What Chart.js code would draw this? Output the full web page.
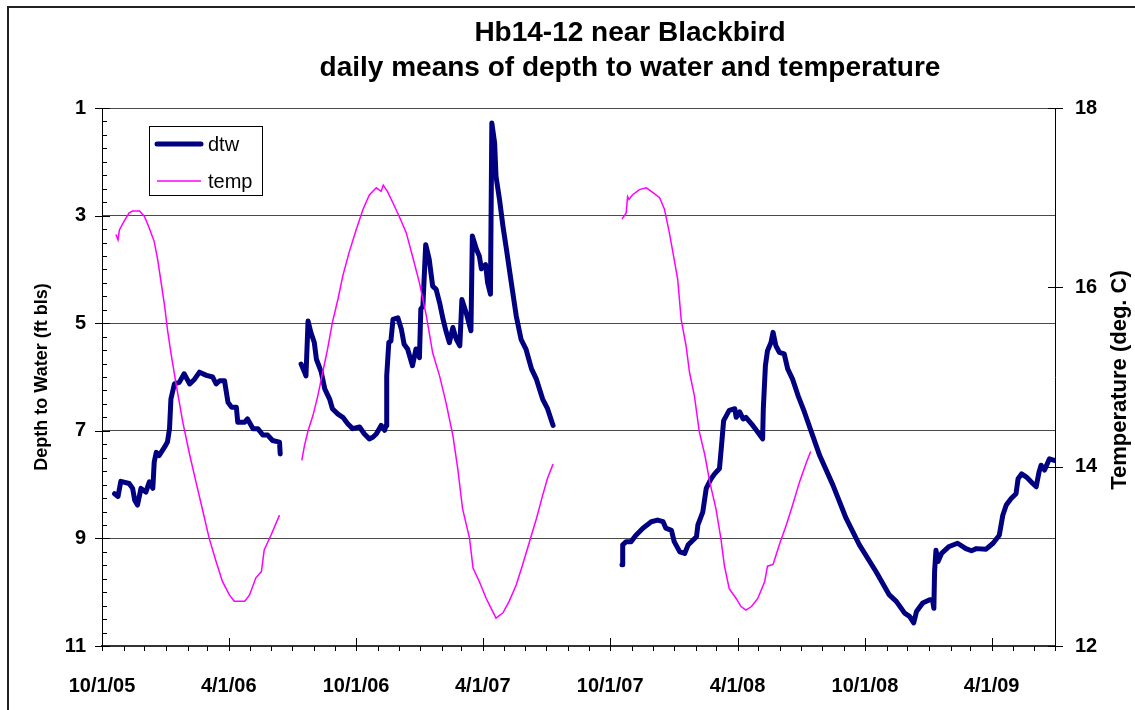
<!DOCTYPE html>
<html>
<head>
<meta charset="utf-8">
<script src="https://cdn.jsdelivr.net/npm/chart.js@4.4.1/dist/chart.umd.min.js"></script>
<style>
  html, body { margin: 0; padding: 0; background: #fff; }
  #chart { display: block; }
</style>
</head>
<body>
<canvas id="chart" width="1135" height="710"></canvas>
<script>
const titleLines = ['Hb14-12 near Blackbird', 'daily means of depth to water and temperature'];
const depthAxisTitle = 'Depth to Water (ft bls)';
const tempAxisTitle = 'Temperature (deg. C)';
const xStart = '2005-10-01';
const xEnd = '2009-07-01';
const xTickDates = ['2005-10-01', '2006-04-01', '2006-10-01', '2007-04-01', '2007-10-01', '2008-04-01', '2008-10-01', '2009-04-01'];
const depthTicks = [1, 3, 5, 7, 9, 11];
const tempTicks = [12, 14, 16, 18];

// null = no record (logger gap)
const dtwDates = [
    '2005-10-19', '2005-10-24', '2005-10-28', '2005-11-09', '2005-11-14', '2005-11-17', '2005-11-21', '2005-11-26',
    '2005-12-03', '2005-12-08', '2005-12-13', '2005-12-15', '2005-12-18', '2005-12-22', '2005-12-30', '2006-01-03',
    '2006-01-06', '2006-01-08', '2006-01-13', '2006-01-20', '2006-01-27', '2006-02-04', '2006-02-11', '2006-02-18',
    '2006-02-28', '2006-03-09', '2006-03-14', '2006-03-19', '2006-03-26', '2006-03-31', '2006-04-05', '2006-04-12',
    '2006-04-14', '2006-04-24', '2006-04-28', '2006-05-06', '2006-05-13', '2006-05-20', '2006-05-27', '2006-06-03',
    '2006-06-13', '2006-06-14',
    '2006-06-30',
    '2006-07-14', '2006-07-19', '2006-07-21', '2006-07-24', '2006-07-28', '2006-08-02', '2006-08-05', '2006-08-12',
    '2006-08-17', '2006-08-24', '2006-08-28', '2006-09-05', '2006-09-12', '2006-09-19', '2006-09-26', '2006-10-06',
    '2006-10-13', '2006-10-20', '2006-10-25', '2006-10-30', '2006-11-06', '2006-11-11', '2006-11-13', '2006-11-14',
    '2006-11-17', '2006-11-20', '2006-11-23', '2006-11-30', '2006-12-05', '2006-12-09', '2006-12-14', '2006-12-21',
    '2006-12-26', '2006-12-31', '2007-01-02', '2007-01-05', '2007-01-09', '2007-01-14', '2007-01-19', '2007-01-24',
    '2007-01-29', '2007-02-03', '2007-02-07', '2007-02-12', '2007-02-17', '2007-02-22', '2007-02-27', '2007-03-02',
    '2007-03-08', '2007-03-15', '2007-03-17', '2007-03-23', '2007-03-27', '2007-03-30', '2007-04-05', '2007-04-08',
    '2007-04-12', '2007-04-14', '2007-04-18', '2007-04-20', '2007-04-25', '2007-04-30', '2007-05-05', '2007-05-12',
    '2007-05-19', '2007-05-26', '2007-06-02', '2007-06-10', '2007-06-17', '2007-06-26', '2007-07-03', '2007-07-11',
    '2007-09-01',
    '2007-10-18', '2007-10-19', '2007-10-24', '2007-10-31', '2007-11-07', '2007-11-17', '2007-11-29', '2007-12-08',
    '2007-12-16', '2007-12-20', '2007-12-28', '2008-01-01', '2008-01-09', '2008-01-16', '2008-01-21', '2008-02-02',
    '2008-02-04', '2008-02-11', '2008-02-16', '2008-02-23', '2008-02-28', '2008-03-06', '2008-03-09', '2008-03-12',
    '2008-03-20', '2008-03-28', '2008-03-30', '2008-04-04', '2008-04-09', '2008-04-13', '2008-04-21', '2008-04-28',
    '2008-05-07', '2008-05-08', '2008-05-11', '2008-05-14', '2008-05-19', '2008-05-22', '2008-05-26', '2008-05-31',
    '2008-06-07', '2008-06-12', '2008-06-19', '2008-06-27', '2008-07-06', '2008-07-16', '2008-07-28', '2008-08-16',
    '2008-09-04', '2008-09-23', '2008-10-17', '2008-11-05', '2008-11-15', '2008-11-27', '2008-12-04', '2008-12-10',
    '2008-12-14', '2008-12-23', '2009-01-02', '2009-01-06', '2009-01-08', '2009-01-09', '2009-01-11', '2009-01-14',
    '2009-01-19', '2009-01-30', '2009-02-11', '2009-02-23', '2009-03-03', '2009-03-10', '2009-03-24', '2009-04-03',
    '2009-04-12', '2009-04-17', '2009-04-22', '2009-04-29', '2009-05-06', '2009-05-09', '2009-05-14', '2009-05-21',
    '2009-05-30', '2009-06-04', '2009-06-08', '2009-06-11', '2009-06-16', '2009-06-23', '2009-06-30'
];
const dtwFeet = [
    8.17, 8.22, 7.94, 7.98, 8.07, 8.29, 8.38, 8.07,
    8.14, 7.95, 8.07, 7.58, 7.40, 7.46, 7.30, 7.21,
    6.96, 6.41, 6.13, 6.10, 5.94, 6.13, 6.04, 5.91,
    5.97, 6.00, 6.13, 6.07, 6.07, 6.47, 6.56, 6.56,
    6.84, 6.84, 6.78, 6.96, 6.96, 7.08, 7.08, 7.18,
    7.21, 7.43,
    null,
    5.76, 5.91, 5.98, 4.96, 5.17, 5.36, 5.67, 5.91,
    6.22, 6.41, 6.59, 6.69, 6.75, 6.87, 6.96, 6.93,
    7.06, 7.15, 7.12, 7.06, 6.90, 6.99, 6.90, 5.98,
    5.36, 5.33, 4.93, 4.90, 5.11, 5.39, 5.48, 5.79,
    5.48, 5.64, 4.74, 4.68, 3.54, 3.81, 4.31, 4.37,
    4.62, 4.93, 5.14, 5.36, 5.08, 5.30, 5.42, 4.56,
    4.80, 5.14, 3.38, 3.63, 3.75, 3.99, 3.91, 4.25,
    4.46, 1.28, 1.65, 2.27, 2.70, 3.20, 3.63, 4.25,
    4.86, 5.30, 5.48, 5.85, 6.04, 6.41, 6.59, 6.90,
    null,
    9.49, 9.12, 9.06, 9.06, 8.94, 8.81, 8.69, 8.66,
    8.69, 8.81, 8.85, 9.06, 9.25, 9.28, 9.12, 8.97,
    8.75, 8.51, 8.07, 7.89, 7.80, 7.70, 7.27, 6.81,
    6.62, 6.59, 6.75, 6.65, 6.78, 6.75, 6.87, 6.99,
    7.15, 6.59, 5.79, 5.51, 5.36, 5.17, 5.42, 5.54,
    5.57, 5.85, 6.04, 6.35, 6.65, 7.02, 7.46, 8.01,
    8.63, 9.12, 9.62, 10.05, 10.17, 10.39, 10.45, 10.57,
    10.36, 10.20, 10.14, 10.14, 10.30, 9.62, 9.22, 9.43,
    9.28, 9.15, 9.09, 9.19, 9.23, 9.19, 9.20, 9.09,
    8.94, 8.57, 8.38, 8.26, 8.17, 7.89, 7.80, 7.86,
    7.98, 8.04, 7.77, 7.64, 7.73, 7.52, 7.55
];

const tempDates = [
    '2005-10-21', '2005-10-24', '2005-10-26', '2005-11-02', '2005-11-09', '2005-11-14', '2005-11-24', '2005-12-01',
    '2005-12-08', '2005-12-15', '2005-12-20', '2005-12-25', '2005-12-30', '2006-01-03', '2006-01-08', '2006-01-15',
    '2006-01-25', '2006-02-04', '2006-02-13', '2006-02-23', '2006-03-04', '2006-03-14', '2006-03-23', '2006-04-02',
    '2006-04-09', '2006-04-24', '2006-05-01', '2006-05-10', '2006-05-18', '2006-05-22', '2006-06-01', '2006-06-13',
    '2006-07-01',
    '2006-07-15', '2006-07-19', '2006-07-24', '2006-07-31', '2006-08-07', '2006-08-14', '2006-08-21', '2006-08-28',
    '2006-09-05', '2006-09-12', '2006-09-21', '2006-10-01', '2006-10-11', '2006-10-20', '2006-10-30', '2006-11-06',
    '2006-11-09', '2006-11-15', '2006-11-23', '2006-12-02', '2006-12-12', '2006-12-21', '2006-12-31', '2007-01-10',
    '2007-01-19', '2007-01-29', '2007-02-07', '2007-02-17', '2007-02-24', '2007-03-03', '2007-03-13', '2007-03-18',
    '2007-03-27', '2007-04-06', '2007-04-13', '2007-04-20', '2007-04-30', '2007-05-09', '2007-05-19', '2007-05-28',
    '2007-06-07', '2007-06-17', '2007-06-26', '2007-07-03', '2007-07-11',
    '2007-09-01',
    '2007-10-18', '2007-10-24', '2007-10-26', '2007-10-28', '2007-11-02', '2007-11-12', '2007-11-22', '2007-12-01',
    '2007-12-11', '2007-12-18', '2007-12-25', '2008-01-01', '2008-01-06', '2008-01-11', '2008-01-18', '2008-01-23',
    '2008-01-30', '2008-02-06', '2008-02-14', '2008-02-21', '2008-03-01', '2008-03-08', '2008-03-13', '2008-03-20',
    '2008-03-30', '2008-04-06', '2008-04-13', '2008-04-21', '2008-04-30', '2008-05-10', '2008-05-14', '2008-05-22',
    '2008-05-31', '2008-06-10', '2008-06-19', '2008-06-29', '2008-07-09', '2008-07-15'
];
const tempC = [
    16.59, 16.53, 16.64, 16.74, 16.83, 16.85, 16.85, 16.79,
    16.66, 16.51, 16.31, 16.05, 15.79, 15.53, 15.27, 14.94,
    14.50, 14.13, 13.83, 13.50, 13.20, 12.94, 12.72, 12.57,
    12.50, 12.50, 12.57, 12.76, 12.83, 13.07, 13.24, 13.46,
    null,
    14.07, 14.24, 14.40, 14.57, 14.79, 15.05, 15.31, 15.61,
    15.87, 16.13, 16.39, 16.64, 16.87, 17.03, 17.11, 17.07,
    17.14, 17.07, 16.94, 16.79, 16.61, 16.35, 16.05, 15.68,
    15.27, 15.01, 14.72, 14.35, 13.98, 13.53, 13.20, 12.87,
    12.72, 12.53, 12.42, 12.31, 12.37, 12.50, 12.68, 12.90,
    13.16, 13.42, 13.68, 13.87, 14.03,
    null,
    16.76, 16.83, 17.01, 16.98, 17.03, 17.09, 17.11, 17.06,
    17.00, 16.87, 16.61, 16.31, 16.09, 15.64, 15.35, 15.05,
    14.79, 14.39, 14.13, 13.83, 13.53, 13.20, 12.90, 12.64,
    12.53, 12.44, 12.40, 12.44, 12.53, 12.72, 12.89, 12.91,
    13.13, 13.35, 13.57, 13.83, 14.05, 14.17
];

const FONT = '"Liberation Sans", Arial, sans-serif';
Chart.defaults.font.family = FONT;
Chart.defaults.color = '#000';

const toDay = s => {
    const [y, m, d] = s.split('-').map(Number);
    return Date.UTC(y, m - 1, d) / 86400000;
};
const fmtDay = v => {
    const d = new Date(v * 86400000);
    return (d.getUTCMonth() + 1) + '/' + d.getUTCDate() + '/' + String(d.getUTCFullYear()).slice(2);
};
const toPoints = (dates, vals) => dates.map((s, i) => ({ x: toDay(s), y: vals[i] }));

// Excel-like frame: titles, tick marks, legend box, outer border
const excelFrame = {
    id: 'excelFrame',
    afterDraw(chart) {
        const { ctx, chartArea: a, scales: { x, y, y1 } } = chart;
        ctx.save();

        ctx.strokeStyle = '#000';
        ctx.lineWidth = 1;
        ctx.beginPath();
        for (let v = 1; v <= 11.001; v += 0.25) {
            const py = Math.round(y.getPixelForValue(v)) + 0.5;
            const major = depthTicks.some(t => Math.abs(t - v) < 1e-6);
            ctx.moveTo(a.left - (major ? 7 : 0), py);
            ctx.lineTo(a.left + (major ? 8 : 5), py);
        }
        tempTicks.forEach(v => {
            const py = Math.round(y1.getPixelForValue(v)) + 0.5;
            ctx.moveTo(a.right - 7, py);
            ctx.lineTo(a.right + 8, py);
        });
        xTickDates.forEach(s => {
            const px = Math.round(x.getPixelForValue(toDay(s))) + 0.5;
            ctx.moveTo(px, a.bottom);
            ctx.lineTo(px, a.bottom - 8);
        });
        const end = toDay(xEnd);
        for (let yr = 2005, mo = 9; ; mo++) {
            if (mo > 11) { mo = 0; yr++; }
            const day = Date.UTC(yr, mo, 1) / 86400000;
            if (day > end) break;
            const px = Math.round(x.getPixelForValue(day)) + 0.5;
            ctx.moveTo(px, a.bottom);
            ctx.lineTo(px, a.bottom + 5);
        }
        ctx.stroke();

        // outer border (top and left edges show in the frame)
        ctx.strokeStyle = '#222';
        ctx.lineWidth = 2;
        ctx.beginPath();
        ctx.moveTo(8, 710);
        ctx.lineTo(8, 7);
        ctx.lineTo(1135, 7);
        ctx.stroke();

        // title
        ctx.fillStyle = '#000';
        ctx.textAlign = 'center';
        ctx.textBaseline = 'middle';
        ctx.font = 'bold 28px ' + FONT;
        titleLines.forEach((t, i) => ctx.fillText(t, 630, 33 + i * 35));

        // axis titles
        ctx.save();
        ctx.translate(42, 377);
        ctx.rotate(-Math.PI / 2);
        ctx.font = 'bold 18px ' + FONT;
        ctx.fillText(depthAxisTitle, 0, 0);
        ctx.restore();
        ctx.save();
        ctx.translate(1120, 380);
        ctx.rotate(-Math.PI / 2);
        ctx.font = 'bold 22px ' + FONT;
        ctx.fillText(tempAxisTitle, 0, 0);
        ctx.restore();

        // legend
        ctx.fillStyle = '#fff';
        ctx.fillRect(149.5, 126.5, 113, 69);
        ctx.strokeStyle = '#000';
        ctx.lineWidth = 1;
        ctx.strokeRect(149.5, 126.5, 113, 69);
        ctx.textAlign = 'left';
        ctx.font = '20px ' + FONT;
        chart.data.datasets.forEach((ds, i) => {
            const ly = 144 + i * 37;
            ctx.strokeStyle = ds.borderColor;
            ctx.lineWidth = ds.borderWidth;
            ctx.lineCap = ds.borderCapStyle || 'butt';
            ctx.beginPath();
            ctx.moveTo(157, ly);
            ctx.lineTo(201, ly);
            ctx.stroke();
            ctx.fillStyle = '#000';
            ctx.fillText(ds.label, 208, ly + 1);
        });

        ctx.restore();
    }
};

new Chart(document.getElementById('chart'), {
    type: 'line',
    data: {
        datasets: [
            {
                label: 'dtw',
                data: toPoints(dtwDates, dtwFeet),
                yAxisID: 'y',
                borderColor: '#000080',
                borderWidth: 5,
                borderCapStyle: 'round',
                borderJoinStyle: 'round',
                pointRadius: 0,
                tension: 0,
                spanGaps: false,
                order: 1
            },
            {
                label: 'temp',
                data: toPoints(tempDates, tempC),
                yAxisID: 'y1',
                borderColor: '#ff00ff',
                borderWidth: 1.5,
                pointRadius: 0,
                tension: 0,
                spanGaps: false,
                order: 0
            }
        ]
    },
    options: {
        responsive: false,
        animation: false,
        devicePixelRatio: 1,
        layout: { padding: { top: 108, left: 0, right: 0, bottom: 0 } },
        plugins: {
            legend: { display: false },
            title: { display: false },
            tooltip: { enabled: false }
        },
        scales: {
            x: {
                type: 'linear',
                position: 'bottom',
                min: toDay(xStart),
                max: toDay(xEnd),
                afterBuildTicks: scale => { scale.ticks = xTickDates.map(s => ({ value: toDay(s) })); },
                afterFit: scale => { scale.height = 64; },
                grid: { display: false, drawTicks: false },
                border: { display: true, color: '#333', width: 2 },
                ticks: {
                    autoSkip: false,
                    maxRotation: 0,
                    padding: 28,
                    font: { size: 20, weight: 'bold' },
                    callback: v => fmtDay(v)
                }
            },
            y: {
                type: 'linear',
                position: 'left',
                reverse: true,
                min: 1,
                max: 11,
                afterBuildTicks: scale => { scale.ticks = depthTicks.map(v => ({ value: v })); },
                afterFit: scale => { scale.width = 102; },
                grid: { display: true, drawTicks: false, color: '#4a4a4a', lineWidth: 1 },
                border: { display: true, color: '#000', width: 1 },
                ticks: { padding: 16, font: { size: 20, weight: 'bold' } }
            },
            y1: {
                type: 'linear',
                position: 'right',
                min: 12,
                max: 18,
                afterBuildTicks: scale => { scale.ticks = tempTicks.map(v => ({ value: v })); },
                afterFit: scale => { scale.width = 80; },
                grid: { display: false, drawTicks: false },
                border: { display: true, color: '#000', width: 1 },
                ticks: { padding: 20, font: { size: 20, weight: 'bold' } }
            }
        }
    },
    plugins: [excelFrame]
});
</script>
</body>
</html>
